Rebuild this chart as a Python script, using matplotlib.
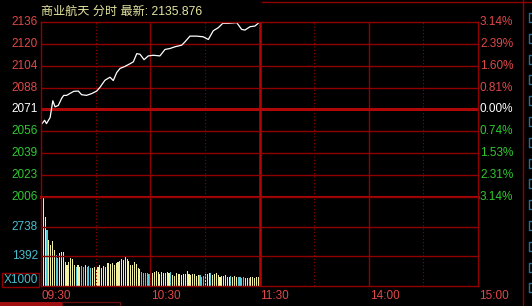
import numpy as np
import matplotlib.pyplot as plt
from matplotlib.patches import Rectangle

plt.rcParams['font.family'] = ['Liberation Sans', 'Noto Sans CJK SC', 'DejaVu Sans']

# price line (minute from 09:30, index value)
minutes = [0, 2, 3, 5, 6.5, 7.7, 9.5, 11.4, 12.5, 14.1, 16, 18, 20.5, 22.3, 25, 27.8,
           30.6, 32.4, 35.1, 37.9, 39.7, 41.6, 43.4, 46.1, 48.9, 50.7, 52.6, 54.4,
           56.6, 58.9, 61.7, 65.3, 68.1, 70.8, 73.6, 77.3, 79.1, 81.8, 85.5, 89.1,
           91.9, 94.6, 97.4, 99.8, 102.9, 107.5, 110.2, 112, 114.8, 117.5, 120]
prices = [2059.6, 2063, 2060.5, 2065, 2077.5, 2073, 2074, 2079.5, 2081.5, 2081.5,
          2083, 2084.5, 2084.7, 2082, 2081.5, 2082.8, 2084.7, 2087.5, 2092.7, 2095,
          2092.5, 2098.5, 2101.5, 2103, 2105, 2106.4, 2112.5, 2112, 2108, 2110.8,
          2111.3, 2110.8, 2115.6, 2116.3, 2117.6, 2118.8, 2121.3, 2125.5, 2125.5,
          2125, 2123, 2129.5, 2131.8, 2135, 2135, 2135.5, 2130.5, 2130, 2132.5,
          2133, 2135.876]

# volume per minute, x1000
volumes = [1860, 4080, 3200, 2600, 2130, 1900, 2090, 1670, 1440, 1300, 1530, 1580,
           1580, 1110, 970, 1110, 1300, 1250, 970, 880, 970, 880, 930, 880, 970,
           880, 930, 840, 840, 880, 790,
           880, 970, 840, 930, 880, 1070, 1070, 1020, 1070, 970, 1070, 1110, 1160,
           1250, 1210, 1390, 1250, 1160, 970, 970, 1110, 1020, 840, 790, 650, 600,
           600, 600, 560, 600,
           600, 650, 700, 650, 560, 650, 600, 600, 650, 600, 650, 510, 460, 600,
           560, 560, 510, 560, 560, 700, 560, 510, 560, 560, 460, 510, 510, 420,
           460, 560, 560, 600, 600, 510, 560, 600, 510, 420, 460, 460, 510, 420,
           420, 460, 420, 460, 420, 420, 420, 370, 420, 370, 370, 370, 420, 420,
           370, 420, 420, 460]
cyan_bars = [3, 8, 9, 19, 22, 23, 25, 26, 27, 55, 56, 57, 58, 59, 60, 71, 87, 88,
             89, 93, 104, 108, 109, 110, 111, 114]

price_levels = [2006, 2022.25, 2038.5, 2054.75, 2071, 2087.25, 2103.5, 2119.75, 2136]
price_labels = ['2006', '2023', '2039', '2056', '2071', '2088', '2104', '2120', '2136']
pct_labels = ['3.14%', '2.31%', '1.53%', '0.74%', '0.00%', '0.81%', '1.60%', '2.39%', '3.14%']
vol_levels = [1370, 2740]
vol_labels = ['1392', '2738']
time_pos = [0, 60, 120, 180, 240]
time_labels = ['09:30', '10:30', '11:30', '14:00', '15:00']

RED_TXT = '#E04848'
GRN_TXT = '#30C830'
CYAN_TXT = '#48C0D0'
GRID = '#900000'
GRID2 = '#B00808'

W, H = 532, 306
fig = plt.figure(figsize=(W / 100, H / 100), dpi=100, facecolor='black')


def box(l, t, r, b):
    return [l / W, 1 - b / H, (r - l) / W, (b - t) / H]


ax_p = fig.add_axes(box(41, 22, 478, 197))
ax_v = fig.add_axes(box(41, 197, 478, 286))

for ax in (ax_p, ax_v):
    ax.set_facecolor('black')
    ax.set_xlim(0, 240)
    ax.set_xticks([])
    ax.set_yticks([])
    for s in ax.spines.values():
        s.set_color(GRID)
        s.set_linewidth(1)
    for t in (60, 180):
        ax.axvline(t, color=GRID, lw=1)
    ax.axvline(120, color=GRID2, lw=1.8)
    for t in (30, 90, 150, 210):
        ax.axvline(t, color=GRID, lw=0.8, ls=(0, (1, 2)))

ax_p.set_ylim(2006, 2136)
for lv in price_levels[1:-1]:
    ax_p.axhline(lv, color=GRID, lw=1)
ax_p.axhline(2071, color=GRID2, lw=2.2)
ax_p.spines['bottom'].set_linewidth(2.2)
ax_p.spines['bottom'].set_color(GRID2)
ax_p.plot(minutes, prices, color='white', lw=0.9)

for lv, lab, pct in zip(price_levels, price_labels, pct_labels):
    if lv > 2071:
        c = RED_TXT
    elif lv < 2071:
        c = GRN_TXT
    else:
        c = 'white'
    ax_p.annotate(lab, xy=(0, lv), xycoords=('axes fraction', 'data'),
                  xytext=(-3, 0), textcoords='offset pixels',
                  ha='right', va='center', color=c, fontsize=8.5)
    ax_p.annotate(pct, xy=(1, lv), xycoords=('axes fraction', 'data'),
                  xytext=(2, 0), textcoords='offset pixels',
                  ha='left', va='center', color=c, fontsize=8.5)

ax_p.annotate('商业航天 分时 最新: 2135.876', xy=(0, 1), xycoords='axes fraction',
              xytext=(0, 10), textcoords='offset pixels', ha='left', va='center',
              color='#E6E6A0', fontsize=8.7)

ax_v.set_ylim(0, 4110)
for lv in vol_levels:
    ax_v.axhline(lv, color=GRID, lw=1)
colors = ['#58C8D8' if i in cyan_bars else '#F0F0A0' for i in range(len(volumes))]
ax_v.bar(np.arange(len(volumes)), volumes, width=0.6, color=colors, linewidth=0,
         align='edge', antialiased=False)

for lv, lab in zip(vol_levels, vol_labels):
    ax_v.annotate(lab, xy=(0, lv), xycoords=('axes fraction', 'data'),
                  xytext=(-3, 0), textcoords='offset pixels',
                  ha='right', va='center', color=CYAN_TXT, fontsize=8.5)
ax_v.annotate('X1000', xy=(0, 0), xycoords='axes fraction',
              xytext=(-3, 6), textcoords='offset pixels',
              ha='right', va='center', color=CYAN_TXT, fontsize=8.5,
              bbox=dict(boxstyle='square,pad=0.1', fc='black', ec=GRID, lw=1))

for t, lab in zip(time_pos, time_labels):
    ax_v.annotate(lab, xy=(t, 0), xycoords=('data', 'axes fraction'),
                  xytext=(1, -4), textcoords='offset pixels',
                  ha='left', va='top', color=RED_TXT, fontsize=8.5)

# window frame decorations
fig.add_artist(plt.Line2D([262 / W, 1], [1 - 1.5 / H] * 2, color=GRID, lw=1))
fig.add_artist(plt.Line2D([522.5 / W] * 2, [0, 1], color=GRID, lw=1))
for k in range(14):
    y0 = 13 + k * 20.8
    fig.add_artist(Rectangle((528.5 / W, 1 - (y0 + 9) / H), 6 / W, 9 / H,
                             fill=False, ec='#2A7090', lw=1))
fig.add_artist(Rectangle((0, 0), 62 / W, 4 / H, fc='#A01010', ec='none'))
fig.add_artist(Rectangle((62 / W, 0), 58 / W, 4 / H, fill=False, ec='#6A1010', lw=1))

fig.savefig('out.png', dpi=100, facecolor='black')
